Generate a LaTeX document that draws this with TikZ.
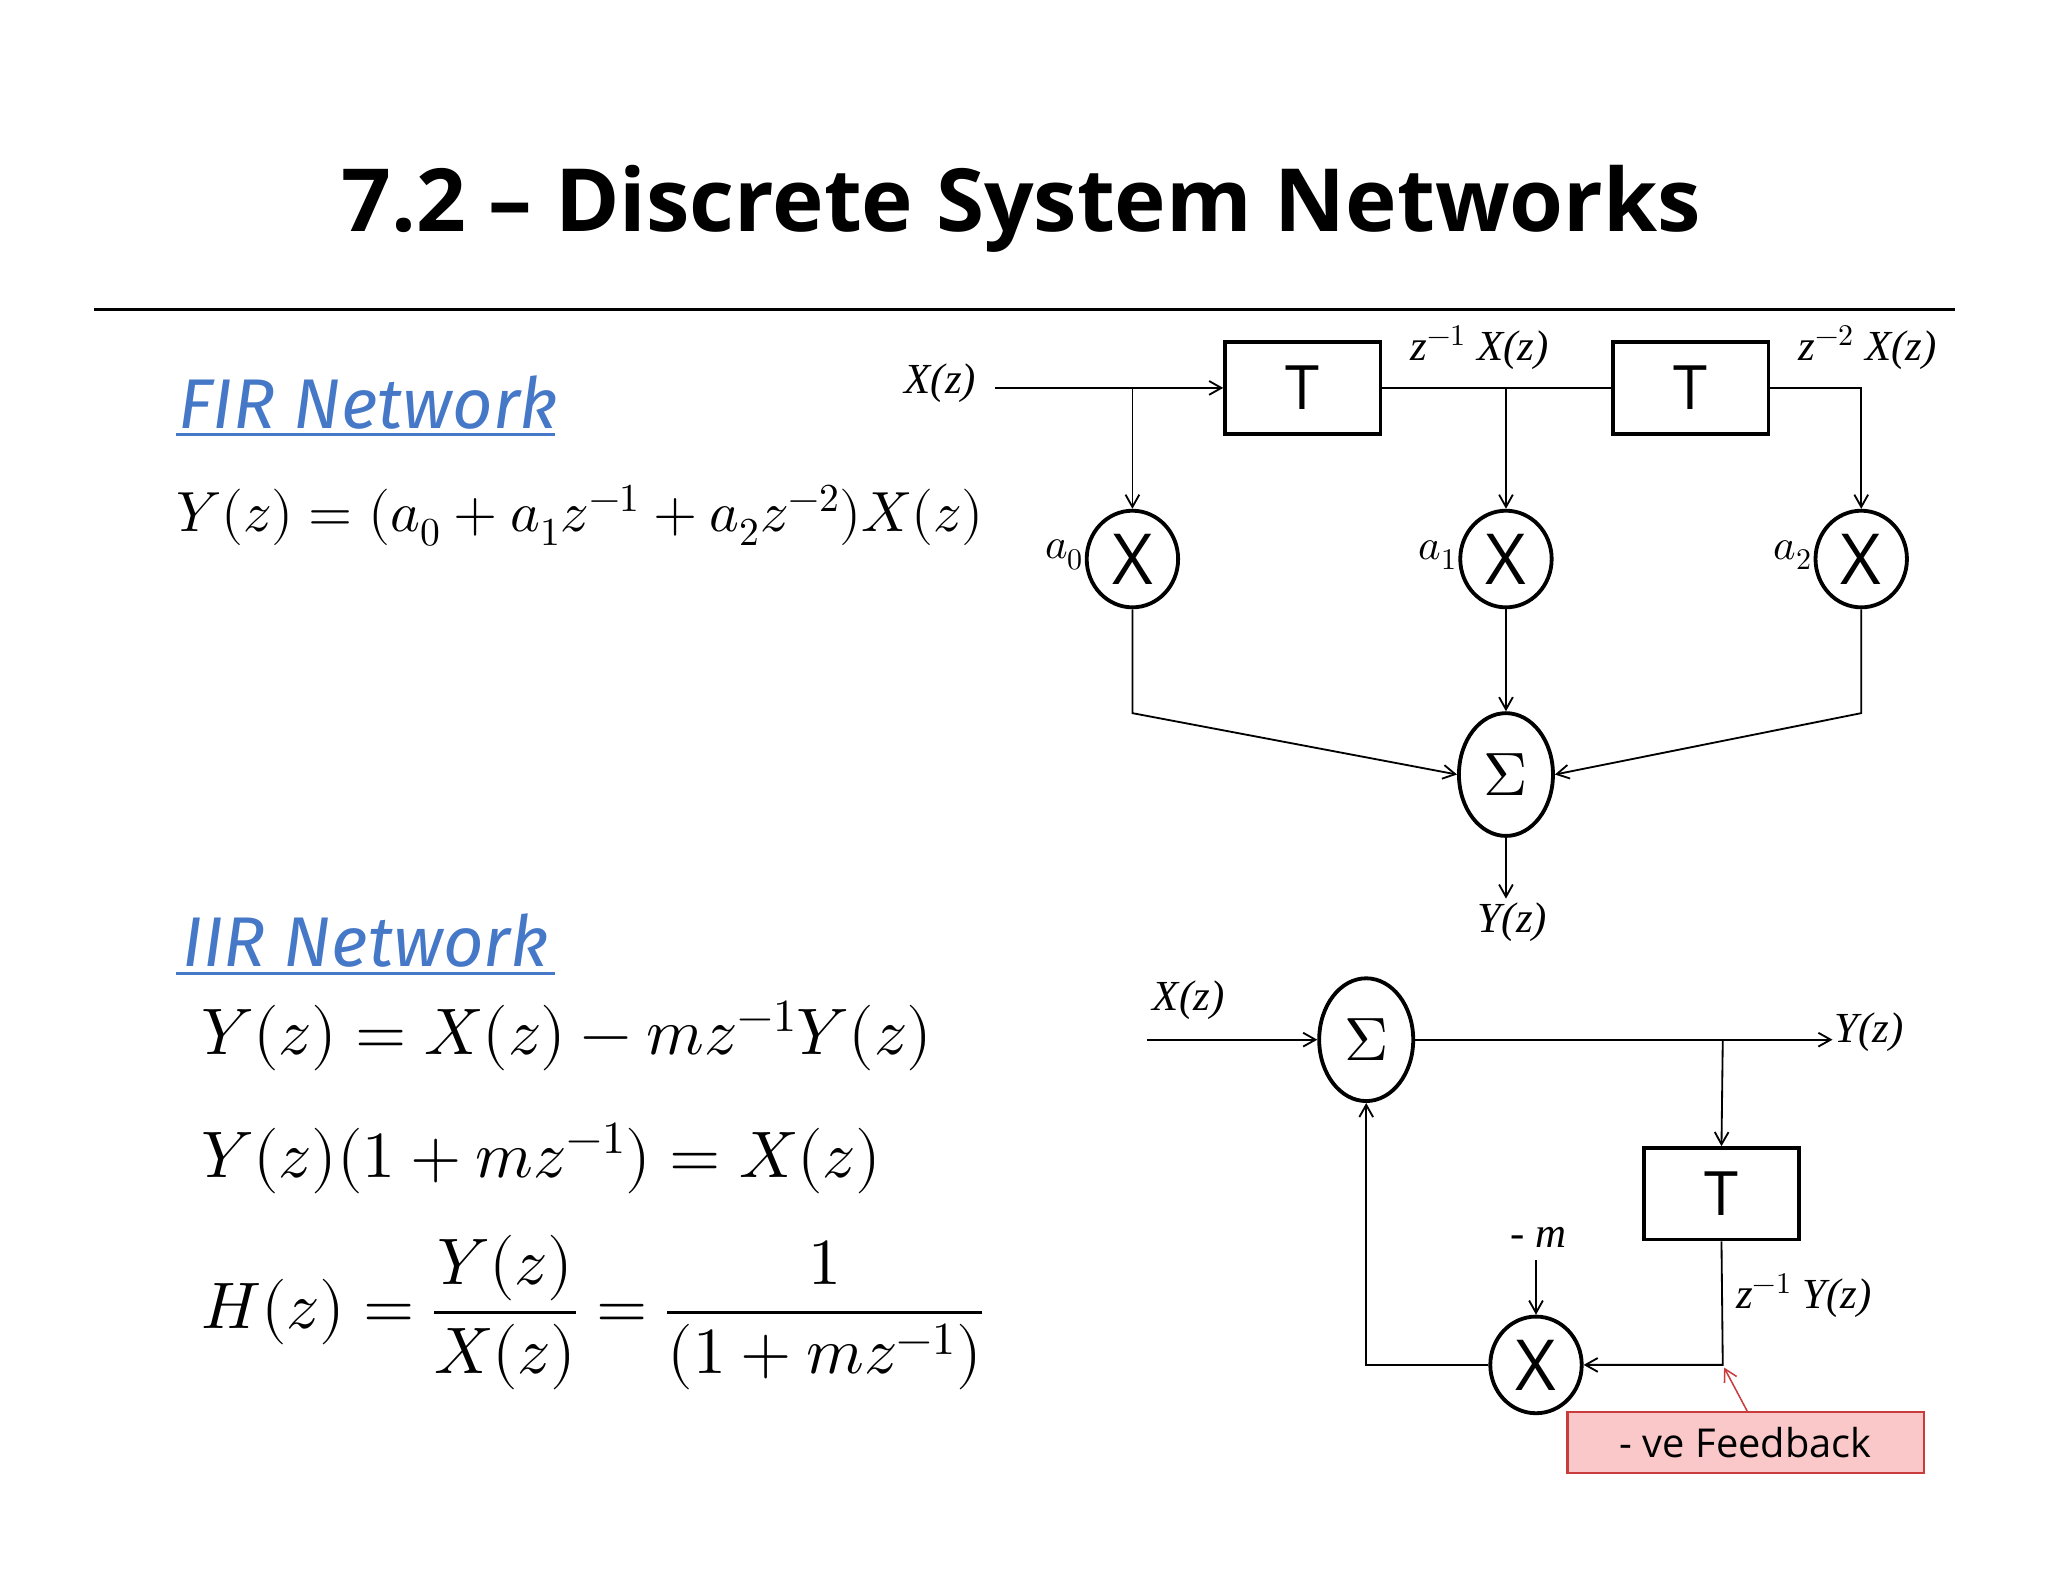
\documentclass[tikz,border=0pt]{standalone}
\usepackage{fontspec}
\usepackage{unicode-math}
\setmathfont{Latin Modern Math}
\setmainfont{Liberation Serif}
\newfontfamily\sans{Open Sans}
\newfontfamily\hand{Fira Sans}
\usetikzlibrary{shapes.geometric,arrows.meta}
\definecolor{fblue}{RGB}{70,120,200}
\definecolor{fbpink}{RGB}{250,200,200}
\definecolor{fbred}{RGB}{200,60,60}
\begin{document}
\begin{tikzpicture}[x=0.3mm,y=-0.3mm,
  ln/.style={line width=1.2pt},
  ar/.style={ln,-{Straight Barb[length=8pt,width=9pt]}},
  box/.style={draw,line width=2.5pt,minimum width=119*0.3mm,minimum height=70*0.3mm,inner sep=0pt,font=\sans\fontsize{40}{40}\selectfont},
  mul/.style={draw,ellipse,line width=2.5pt,minimum width=70*0.3mm,minimum height=74*0.3mm,inner sep=0pt,font=\sans\fontsize{46}{46}\selectfont},
  sum/.style={draw,ellipse,line width=2.5pt,minimum width=72*0.3mm,minimum height=94*0.3mm,inner sep=0pt,font=\fontsize{40}{40}\selectfont},
  lab/.style={font=\itshape\fontsize{28}{28}\selectfont,inner sep=1pt},
  head/.style={font=\hand\itshape\fontsize{46}{46}\selectfont,text=fblue,inner sep=0pt}]
\useasboundingbox (0,0) rectangle (1568,1211);
\node (title) at (782,160) {\sans\bfseries\fontsize{57}{57}\selectfont 7.2 – Discrete System Networks};
\draw[line width=1.5pt] (72,237) -- (1497,237);
% FIR
\node[head] (fir) at (282,308) {FIR Network};
\draw[fblue,line width=2pt] (135,333) -- (425,333);
\node (eq1) at (444,395) {\fontsize{37}{37}\selectfont $Y(z)=(a_0+a_1z^{-1}+a_2z^{-2})X(z)$};
\node[lab] (xin) at (720,293) {X(z)};
\node[box] (t1) at (997.5,297) {T};
\node[box] (t2) at (1294.5,297) {T};
\node[mul] (m0) at (867,428) {X};
\node[mul] (m1) at (1153,428) {X};
\node[mul] (m2) at (1425,428) {X};
\node[lab,anchor=east] (a0) at (831,425) {$a_0$};
\node[lab,anchor=east] (a1) at (1117,425) {$a_1$};
\node[lab,anchor=east] (a2) at (1389,425) {$a_2$};
\node[lab] (z1) at (1133,266) {z$^{-1}$ X(z)};
\node[lab] (z2) at (1430,266) {z$^{-2}$ X(z)};
\node[sum] (s1) at (1153,593) {$\Sigma$};
\node[lab] (yout) at (1158,706) {Y(z)};
\coordinate (c0) at (762,297);
\draw[ar] (c0) -- (t1.west);
\draw[ln] (t1.east) -- (t2.west);
\draw[ar] (867,297) -- (m0.north);
\draw[ar] (1153,297) -- (m1.north);
\draw[ar] (t2.east) -- (1425,297) -- (m2.north);
\draw[ar] (m0.south) -- (867,546) -- (s1.west);
\draw[ar] (m1.south) -- (s1.north);
\draw[ar] (m2.south) -- (1425,546) -- (s1.east);
\draw[ar] (s1.south) -- (1153,688);
% IIR
\node[head] (iir) at (280,720) {IIR Network};
\draw[fblue,line width=2pt] (135,745) -- (425,745);
\node[anchor=west] (e1) at (150,793) {\fontsize{43}{43}\selectfont $Y(z)=X(z)-mz^{-1}Y(z)$};
\node[anchor=west] (e2) at (150,887) {\fontsize{43}{43}\selectfont $Y(z)(1+mz^{-1})=X(z)$};
\node[anchor=west] (e3) at (150,1005) {\fontsize{43}{43}\selectfont $H(z)=\dfrac{Y(z)}{X(z)}=\dfrac{1}{(1+mz^{-1})}$};
\node[lab] (x2) at (910,766) {X(z)};
\node[sum] (s2) at (1046,796) {$\Sigma$};
\node[lab,anchor=west] (y2) at (1403,790) {Y(z)};
\node[box] (t3) at (1318,914) {T};
\node[mul] (m3) at (1176,1045) {X};
\node[lab] (mm) at (1178,947) {- \textit{m}};
\node[lab] (z3) at (1381,992) {z$^{-1}$ Y(z)};
\node[draw=fbred,fill=fbpink,line width=1.5pt,minimum width=273*0.3mm,minimum height=47*0.3mm,inner sep=0pt,font=\sans\fontsize{26}{26}\selectfont] (fb) at (1336.5,1104.5) {- ve Feedback};
\coordinate (c1) at (878,796);
\draw[ar] (c1) -- (s2.west);
\draw[ar] (s2.east) -- (1403,796);
\draw[ar] (1319,796) -- (t3.north);
\draw[ar] (t3.south) -- (1319,1045) -- (m3.east);
\draw[ar] (1176,965) -- (m3.north);
\draw[ar] (m3.west) -- (1046,1045) -- (s2.south);
\draw[fbred,line width=1pt,-{Straight Barb[length=8pt,width=9pt]}] (1338,1081) -- (1320,1047);
\end{tikzpicture}
\end{document}
